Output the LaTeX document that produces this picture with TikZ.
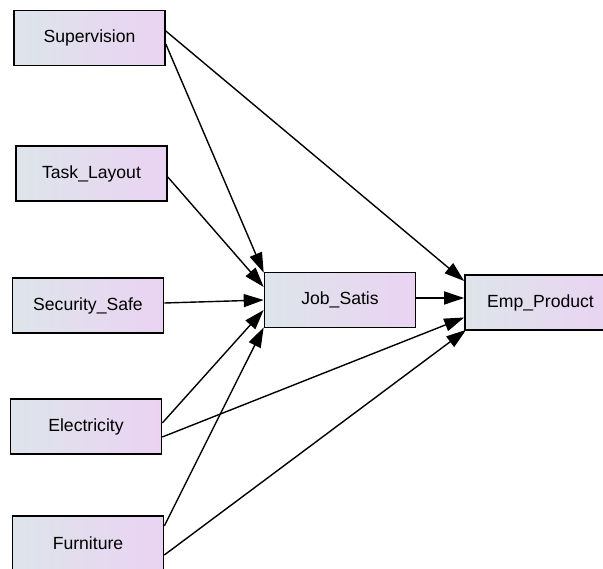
\documentclass[tikz,border=0pt]{standalone}
\usepackage{fontspec}
\setmainfont{Liberation Sans}
\usetikzlibrary{arrows.meta}
\definecolor{boxleft}{HTML}{DDE5EA}
\definecolor{boxright}{HTML}{EAD3F2}
\tikzset{
  var/.style={rectangle, draw=black, line width=1.6pt, minimum width=151pt, minimum height=55pt,
    inner sep=0pt, left color=boxleft, right color=boxright, shading angle=90,
    font=\fontsize{17.6}{20}\selectfont},
  path/.style={line width=1.4pt, -{Triangle[length=20pt,width=13pt]}}
}
\begin{document}
\begin{tikzpicture}[x=1pt,y=-1pt]
\useasboundingbox (0,0) rectangle (603,569);
\node[var] (SU) at (89.5,38) {Supervision};
\node[var] (TL) at (91.5,173.5) {Task\_Layout};
\node[var] (SS) at (88,305.5) {Security\_Safe};
\node[var] (EL) at (86,426.5) {Electricity};
\node[var] (FU) at (88,543.5) {Furniture};
\node[var] (JS) at (340,300) {Job\_Satis};
\node[var] (EP) at (540.5,302.5) {Emp\_Product};

\draw[path] ([yshift=-6pt]SU.east) -- ([yshift=-1pt]JS.north west);
\draw[path] ([yshift=7pt]SU.east) -- ([yshift=21.5pt]EP.west);
\draw[path] ([yshift=-3.5pt]TL.east) -- ([yshift=13pt]JS.west);
\draw[path] ([yshift=2.5pt]SS.east) -- (JS.west);
\draw[path] ([yshift=3.5pt]EL.east) -- ([yshift=-10pt]JS.west);
\draw[path] ([yshift=-10.5pt]EL.east) -- ([yshift=-15pt]EP.west);
\draw[path] ([yshift=17.5pt]FU.east) -- ([yshift=1pt]JS.south west);
\draw[path] ([yshift=-11.5pt]FU.east) -- ([xshift=2pt,yshift=1pt]EP.south west);
\draw[path] ([yshift=2pt]JS.east) -- ([yshift=2pt]JS.east -| EP.west);
\end{tikzpicture}
\end{document}
